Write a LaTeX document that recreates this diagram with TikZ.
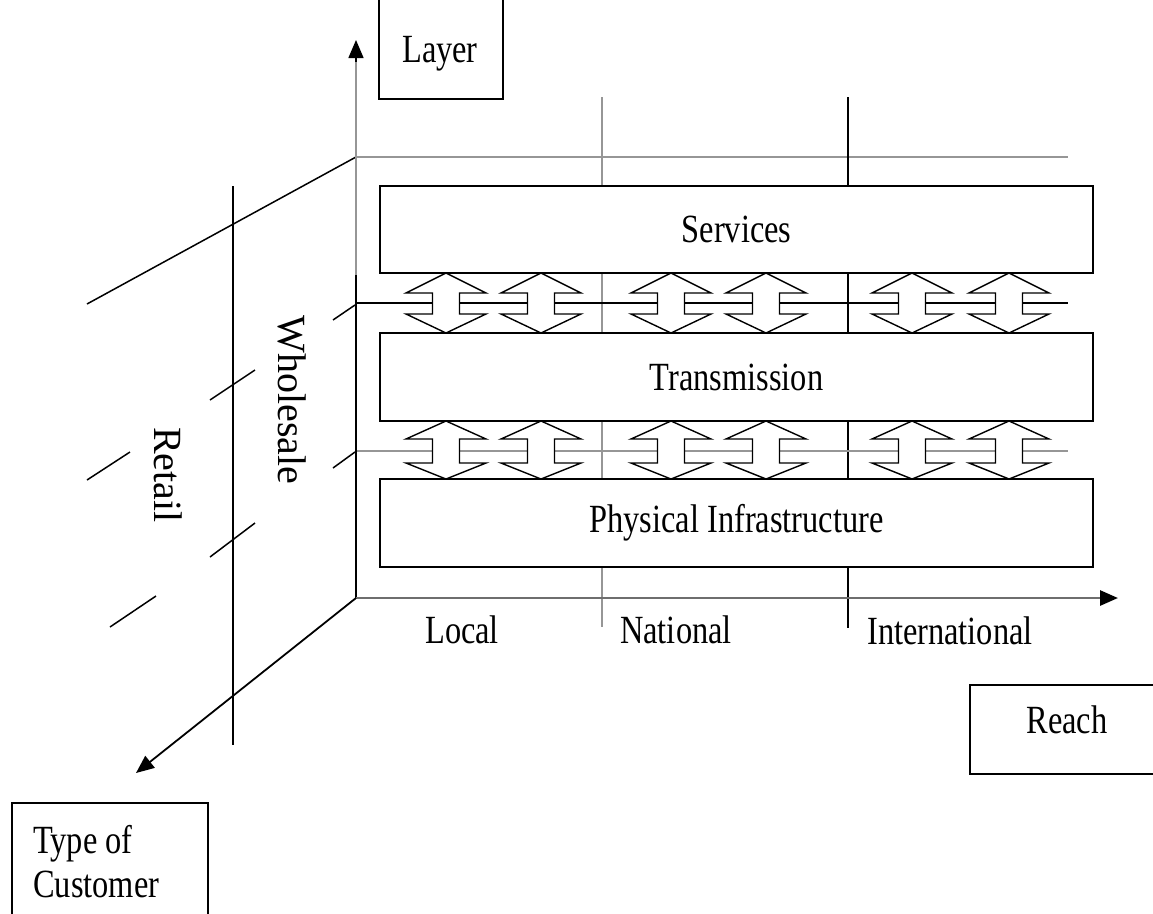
\documentclass[tikz,border=0pt]{standalone}
\usepackage{fontspec}
\setmainfont{Liberation Serif}
\newfontfamily\hfont{Liberation Serif}[FakeStretch=0.81]
\usetikzlibrary{arrows.meta}
\definecolor{linegray}{RGB}{150,150,150}
\definecolor{axisgray}{RGB}{110,110,110}
\begin{document}
\begin{tikzpicture}[x=1pt,y=-1pt,
  blk/.style={draw=black,line width=1.8pt},
  thin/.style={draw=black,line width=1.5pt},
  gry/.style={draw=linegray,line width=2.6pt},
  boxl/.style={draw=black,line width=2.2pt},
  layerbox/.style={draw=black,line width=2.4pt,fill=white,inner sep=0pt,font=\hfont\fontsize{40}{44}\selectfont},
  lbl/.style={font=\hfont\fontsize{40}{44}\selectfont,inner sep=0pt},
  vlbl/.style={font=\fontsize{40}{44}\selectfont,inner sep=0pt,rotate=-90},
  axtip/.style={-{Triangle[length=18pt,width=15pt,color=black]}},
  dblarr/.style={draw=black,line width=1.4pt,fill=white,line join=miter}
]
\useasboundingbox (0,0) rectangle (1153,913);
\clip (0,0) rectangle (1153,913);

% axis coordinates
\coordinate (O) at (356,598);
\coordinate (Ytip) at (356,40);
\coordinate (Ymid) at (356,275);
\coordinate (Xtip) at (1118,598);
\coordinate (Ztip) at (136,773);

% back plane lines
\coordinate (B0) at (356,157);
\coordinate (B1) at (1068,157);
\coordinate (B2) at (87,304);
\draw[gry] (B0) -- (B1);
\draw[thin] (B0) -- (B2);

% depth line (wholesale/retail boundary)
\coordinate (D0) at (233,186);
\coordinate (D1) at (233,745);
\draw[blk] (D0) -- (D1);

% short depth dashes
\foreach \a/\b in {{333,320}/{355,305},{333,468}/{355,452},{210,400}/{255,370},{210,557}/{255,523},{87,480}/{130,452},{110,627}/{156,596}}
  \draw[thin] (\a) -- (\b);

% vertical reach separators
\coordinate (S1t) at (602,97);
\coordinate (S1b) at (602,627);
\coordinate (S2t) at (848,97);
\coordinate (S2b) at (848,628);
\draw[gry] (S1t) -- (S1b);
\draw[blk] (S2t) -- (S2b);

% horizontal interface lines
\coordinate (H1a) at (356,303);
\coordinate (H1b) at (1068,303);
\coordinate (H2a) at (356,451);
\coordinate (H2b) at (1068,451);
\draw[blk] (H1a) -- (H1b);
\draw[gry] (H2a) -- (H2b);

% axes
\draw[thin,axtip] (O) -- (Ytip);
\draw[gry] (Ymid) -- (356,62);
\draw[draw=axisgray,line width=2.8pt,axtip] (O) -- (Xtip);
\draw[blk,axtip] (O) -- (Ztip);

% layer boxes
\node[layerbox,minimum width=713pt,minimum height=87pt] (svc) at (736.5,229.5) {Services};
\node[layerbox,minimum width=713pt,minimum height=88pt] (trn) at (736.5,377) {Transmission};
\node[layerbox,minimum width=713pt,minimum height=88pt] (phy) at (736.5,523) {Physical Infrastructure};

% double arrows
\foreach \c in {446,541,671,766,912,1009} {
  \draw[dblarr] (\c,273) -- (\c+40,293) -- (\c+13.5,293) -- (\c+13.5,314) -- (\c+40,314) -- (\c,333)
     -- (\c-40,314) -- (\c-13.5,314) -- (\c-13.5,293) -- (\c-40,293) -- cycle;
  \draw[dblarr] (\c,421) -- (\c+40,439) -- (\c+13.5,439) -- (\c+13.5,463) -- (\c+40,463) -- (\c,479)
     -- (\c-40,463) -- (\c-13.5,463) -- (\c-13.5,439) -- (\c-40,439) -- cycle;
}

% axis labels
\node[lbl,anchor=base west] (loc) at (425,643) {Local};
\node[lbl,anchor=base west] (nat) at (620,643) {National};
\node[lbl,anchor=base west] (int) at (867,644) {International};
\node[vlbl] (whl) at (292,400) {Wholesale};
\node[vlbl] (ret) at (168,475) {Retail};

% title boxes
\draw[boxl] (379,-10) rectangle (503,99);
\node[lbl,anchor=base west] (lay) at (402,62) {Layer};
\draw[boxl] (970,685) rectangle (1170,774);
\node[lbl,anchor=base] (rch) at (1067,733) {Reach};
\draw[boxl] (12,803) rectangle (208,930);
\node[lbl,anchor=base west] (typ) at (33,853) {Type of};
\node[lbl,anchor=base west] (cus) at (33,897) {Customer};
\end{tikzpicture}
\end{document}
